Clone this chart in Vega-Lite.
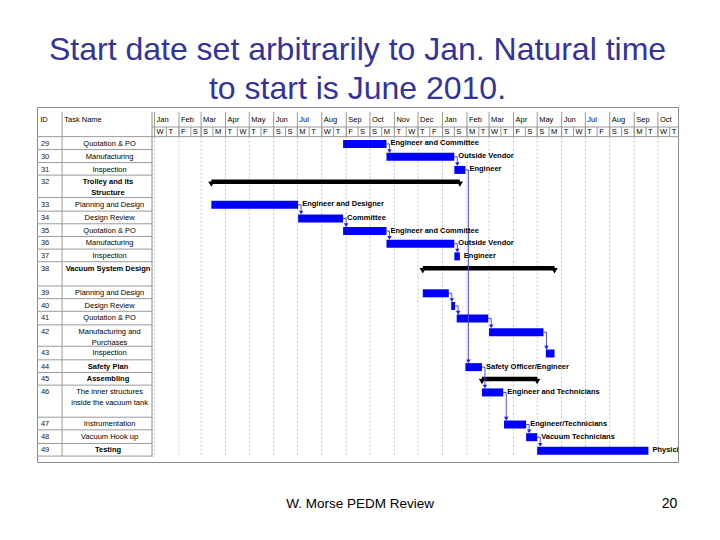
{
  "$schema": "https://vega.github.io/schema/vega-lite/v6.json",
  "width": 641,
  "height": 355,
  "autosize": {"type": "none"},
  "padding": {"left": 37, "top": 107, "right": 42, "bottom": 78},
  "background": "white",
  "config": {"view": {"stroke": "#8c8c8c", "strokeWidth": 1}, "font": "Liberation Sans"},
  "title": {
    "text": ["Start date set arbitrarily to Jan. Natural time", "to start is June 2010."],
    "font": "Liberation Sans",
    "fontSize": 32,
    "fontWeight": "normal",
    "color": "#333399",
    "lineHeight": 39,
    "anchor": "middle",
    "offset": 1
  },
  "datasets": {
    "tasks": [
      {"id": 29, "name": "Quotation & PO", "level": 2, "type": "task", "start": 239, "end": 294, "resource": "Engineer and Committee", "top": 1.89, "bottom": 2.88},
      {"id": 30, "name": "Manufacturing", "level": 2, "type": "task", "start": 294, "end": 380, "resource": "Outside Vendor", "top": 2.88, "bottom": 3.88},
      {"id": 31, "name": "Inspection", "level": 2, "type": "task", "start": 380, "end": 394, "resource": "Engineer", "top": 3.88, "bottom": 4.84},
      {"id": 32, "name": ["Trolley and its", "Structure"], "level": 1, "type": "summary", "start": 72, "end": 387, "resource": null, "top": 4.84, "bottom": 6.56},
      {"id": 33, "name": "Planning and Design", "level": 2, "type": "task", "start": 72, "end": 182, "resource": "Engineer and Designer", "top": 6.56, "bottom": 7.6},
      {"id": 34, "name": "Design Review", "level": 2, "type": "task", "start": 182, "end": 239, "resource": "Committee", "top": 7.6, "bottom": 8.57},
      {"id": 35, "name": "Quotation & PO", "level": 2, "type": "task", "start": 239, "end": 294, "resource": "Engineer and Committee", "top": 8.57, "bottom": 9.54},
      {"id": 36, "name": "Manufacturing", "level": 2, "type": "task", "start": 294, "end": 380, "resource": "Outside Vendor", "top": 9.54, "bottom": 10.51},
      {"id": 37, "name": "Inspection", "level": 2, "type": "task", "start": 380, "end": 387, "resource": "Engineer", "top": 10.51, "bottom": 11.48},
      {"id": 38, "name": "Vacuum System Design", "level": 1, "type": "summary", "start": 340, "end": 507, "resource": null, "top": 11.48, "bottom": 13.34},
      {"id": 39, "name": "Planning and Design", "level": 2, "type": "task", "start": 340, "end": 373, "resource": null, "top": 13.34, "bottom": 14.31},
      {"id": 40, "name": "Design Review", "level": 2, "type": "task", "start": 376, "end": 381, "resource": null, "top": 14.31, "bottom": 15.28},
      {"id": 41, "name": "Quotation & PO", "level": 2, "type": "task", "start": 383, "end": 423, "resource": null, "top": 15.28, "bottom": 16.32},
      {"id": 42, "name": ["Manufacturing and", "Purchases"], "level": 2, "type": "task", "start": 424, "end": 493, "resource": null, "top": 16.32, "bottom": 17.96},
      {"id": 43, "name": "Inspection", "level": 2, "type": "task", "start": 496, "end": 507, "resource": null, "top": 17.96, "bottom": 19.0},
      {"id": 44, "name": "Safety Plan", "level": 1, "type": "task", "start": 394, "end": 415, "resource": "Safety Officer/Engineer", "top": 19.0, "bottom": 19.97},
      {"id": 45, "name": "Assembling", "level": 1, "type": "summary", "start": 415, "end": 485, "resource": null, "top": 19.97, "bottom": 20.94},
      {"id": 46, "name": ["The inner structures", "inside the vacuum tank"], "level": 2, "type": "task", "start": 415, "end": 442, "resource": "Engineer and Technicians", "top": 20.94, "bottom": 23.4},
      {"id": 47, "name": "Instrumentation", "level": 2, "type": "task", "start": 443, "end": 471, "resource": "Engineer/Technicians", "top": 23.4, "bottom": 24.37},
      {"id": 48, "name": "Vacuum Hook up", "level": 2, "type": "task", "start": 471, "end": 485, "resource": "Vacuum Technicians", "top": 24.37, "bottom": 25.41},
      {"id": 49, "name": "Testing", "level": 1, "type": "task", "start": 485, "end": 626, "resource": "Physicists", "top": 25.41, "bottom": 26.38}
    ],
    "links": [
      {"from": 29, "to": 30}, {"from": 30, "to": 31}, {"from": 33, "to": 34}, {"from": 34, "to": 35},
      {"from": 35, "to": 36}, {"from": 36, "to": 37}, {"from": 39, "to": 40}, {"from": 40, "to": 41},
      {"from": 41, "to": 42}, {"from": 42, "to": 43}, {"from": 31, "to": 44}, {"from": 44, "to": 46},
      {"from": 46, "to": 47}, {"from": 47, "to": 48}, {"from": 48, "to": 49}
    ],
    "months": [
      {"start": 0, "label": "Jan"}, {"start": 31, "label": "Feb"}, {"start": 59, "label": "Mar"}, {"start": 90, "label": "Apr"},
      {"start": 120, "label": "May"}, {"start": 151, "label": "Jun"}, {"start": 181, "label": "Jul"}, {"start": 212, "label": "Aug"},
      {"start": 243, "label": "Sep"}, {"start": 273, "label": "Oct"}, {"start": 304, "label": "Nov"}, {"start": 334, "label": "Dec"},
      {"start": 365, "label": "Jan"}, {"start": 396, "label": "Feb"}, {"start": 424, "label": "Mar"}, {"start": 455, "label": "Apr"},
      {"start": 485, "label": "May"}, {"start": 516, "label": "Jun"}, {"start": 546, "label": "Jul"}, {"start": 577, "label": "Aug"},
      {"start": 608, "label": "Sep"}, {"start": 638, "label": "Oct"}
    ],
    "minor": [
      {"day": 0, "label": "W"}, {"day": 15, "label": "T"}, {"day": 31, "label": "F"}, {"day": 46, "label": "S"},
      {"day": 59, "label": "S"}, {"day": 74, "label": "M"}, {"day": 90, "label": "T"}, {"day": 105, "label": "W"},
      {"day": 120, "label": "T"}, {"day": 135, "label": "F"}, {"day": 151, "label": "S"}, {"day": 166, "label": "S"},
      {"day": 181, "label": "M"}, {"day": 196, "label": "T"}, {"day": 212, "label": "W"}, {"day": 227, "label": "T"},
      {"day": 243, "label": "F"}, {"day": 258, "label": "S"}, {"day": 273, "label": "S"}, {"day": 288, "label": "M"},
      {"day": 304, "label": "T"}, {"day": 319, "label": "W"}, {"day": 334, "label": "T"}, {"day": 349, "label": "F"},
      {"day": 365, "label": "S"}, {"day": 380, "label": "S"}, {"day": 396, "label": "M"}, {"day": 411, "label": "T"},
      {"day": 424, "label": "W"}, {"day": 439, "label": "T"}, {"day": 455, "label": "F"}, {"day": 470, "label": "S"},
      {"day": 485, "label": "S"}, {"day": 500, "label": "M"}, {"day": 516, "label": "T"}, {"day": 531, "label": "W"},
      {"day": 546, "label": "T"}, {"day": 561, "label": "F"}, {"day": 577, "label": "S"}, {"day": 592, "label": "S"},
      {"day": 608, "label": "M"}, {"day": 623, "label": "T"}, {"day": 638, "label": "W"}, {"day": 653, "label": "T"}
    ]
  },
  "layer": [
    {
      "data": {"name": "months"},
      "mark": {"type": "rule", "color": "#c4c4c4", "strokeDash": [2, 2], "strokeWidth": 1},
      "encoding": {
        "x": {"field": "start", "type": "quantitative", "scale": {"type": "linear", "domain": [-149, 663.5], "nice": false, "zero": false}, "axis": null},
        "y": {"datum": 1.89, "type": "quantitative", "scale": {"type": "linear", "domain": [0, 26.45], "reverse": true, "nice": false, "zero": false}, "axis": null},
        "y2": {"datum": 26.45}
      }
    },
    {
      "data": {"name": "months"},
      "mark": {"type": "rule", "color": "#9a9a9a", "strokeWidth": 1},
      "encoding": {
        "x": {"field": "start", "type": "quantitative", "scale": {"type": "linear", "domain": [-149, 663.5], "nice": false, "zero": false}, "axis": null},
        "y": {"datum": 0, "type": "quantitative", "scale": {"type": "linear", "domain": [0, 26.45], "reverse": true, "nice": false, "zero": false}, "axis": null},
        "y2": {"datum": 1.89}
      }
    },
    {
      "data": {"name": "minor"},
      "mark": {"type": "rule", "color": "#9a9a9a", "strokeWidth": 1},
      "encoding": {
        "x": {"field": "day", "type": "quantitative", "scale": {"type": "linear", "domain": [-149, 663.5], "nice": false, "zero": false}, "axis": null},
        "y": {"datum": 1.15, "type": "quantitative", "scale": {"type": "linear", "domain": [0, 26.45], "reverse": true, "nice": false, "zero": false}, "axis": null},
        "y2": {"datum": 1.89}
      }
    },
    {
      "data": {"values": [{}]},
      "mark": {"type": "rule", "color": "#9a9a9a", "strokeWidth": 1},
      "encoding": {
        "x": {"datum": -3.2, "type": "quantitative", "scale": {"type": "linear", "domain": [-149, 663.5], "nice": false, "zero": false}, "axis": null},
        "x2": {"datum": 663.5},
        "y": {"datum": 1.15, "type": "quantitative", "scale": {"type": "linear", "domain": [0, 26.45], "reverse": true, "nice": false, "zero": false}, "axis": null}
      }
    },
    {
      "data": {"values": [{}]},
      "mark": {"type": "rule", "color": "#9a9a9a", "strokeWidth": 1},
      "encoding": {
        "x": {"datum": -149, "type": "quantitative", "scale": {"type": "linear", "domain": [-149, 663.5], "nice": false, "zero": false}, "axis": null},
        "x2": {"datum": 663.5},
        "y": {"datum": 1.89, "type": "quantitative", "scale": {"type": "linear", "domain": [0, 26.45], "reverse": true, "nice": false, "zero": false}, "axis": null}
      }
    },
    {
      "data": {"values": [{}]},
      "mark": {"type": "rule", "color": "#9a9a9a", "strokeWidth": 1},
      "encoding": {
        "x": {"datum": -117.2, "type": "quantitative", "scale": {"type": "linear", "domain": [-149, 663.5], "nice": false, "zero": false}, "axis": null},
        "y": {"datum": 0, "type": "quantitative", "scale": {"type": "linear", "domain": [0, 26.45], "reverse": true, "nice": false, "zero": false}, "axis": null},
        "y2": {"datum": 26.38}
      }
    },
    {
      "data": {"values": [{}]},
      "mark": {"type": "rule", "color": "#8c8c8c", "strokeWidth": 1},
      "encoding": {
        "x": {"datum": -3.2, "type": "quantitative", "scale": {"type": "linear", "domain": [-149, 663.5], "nice": false, "zero": false}, "axis": null},
        "y": {"datum": 0, "type": "quantitative", "scale": {"type": "linear", "domain": [0, 26.45], "reverse": true, "nice": false, "zero": false}, "axis": null},
        "y2": {"datum": 26.45}
      }
    },
    {
      "data": {"name": "tasks"},
      "mark": {"type": "rule", "color": "#9a9a9a", "strokeWidth": 1},
      "encoding": {
        "x": {"datum": -149, "type": "quantitative", "scale": {"type": "linear", "domain": [-149, 663.5], "nice": false, "zero": false}, "axis": null},
        "x2": {"datum": -3.2},
        "y": {"field": "bottom", "type": "quantitative", "scale": {"type": "linear", "domain": [0, 26.45], "reverse": true, "nice": false, "zero": false}, "axis": null}
      }
    },
    {
      "data": {"name": "months"},
      "mark": {"type": "text", "align": "left", "baseline": "middle", "dx": 2, "fontSize": 7.5, "color": "#000000"},
      "encoding": {
        "x": {"field": "start", "type": "quantitative", "scale": {"type": "linear", "domain": [-149, 663.5], "nice": false, "zero": false}, "axis": null},
        "y": {"datum": 0.62, "type": "quantitative", "scale": {"type": "linear", "domain": [0, 26.45], "reverse": true, "nice": false, "zero": false}, "axis": null},
        "text": {"field": "label"}
      }
    },
    {
      "data": {"name": "minor"},
      "mark": {"type": "text", "align": "left", "baseline": "middle", "dx": 2, "fontSize": 7.5, "color": "#000000"},
      "encoding": {
        "x": {"field": "day", "type": "quantitative", "scale": {"type": "linear", "domain": [-149, 663.5], "nice": false, "zero": false}, "axis": null},
        "y": {"datum": 1.53, "type": "quantitative", "scale": {"type": "linear", "domain": [0, 26.45], "reverse": true, "nice": false, "zero": false}, "axis": null},
        "text": {"field": "label"}
      }
    },
    {
      "data": {"values": [{}]},
      "mark": {"type": "text", "text": "ID", "align": "left", "baseline": "middle", "fontSize": 7.5, "color": "#000000"},
      "encoding": {
        "x": {"datum": -145, "type": "quantitative", "scale": {"type": "linear", "domain": [-149, 663.5], "nice": false, "zero": false}, "axis": null},
        "y": {"datum": 0.65, "type": "quantitative", "scale": {"type": "linear", "domain": [0, 26.45], "reverse": true, "nice": false, "zero": false}, "axis": null}
      }
    },
    {
      "data": {"values": [{}]},
      "mark": {"type": "text", "text": "Task Name", "align": "left", "baseline": "middle", "fontSize": 7.5, "color": "#000000"},
      "encoding": {
        "x": {"datum": -114.5, "type": "quantitative", "scale": {"type": "linear", "domain": [-149, 663.5], "nice": false, "zero": false}, "axis": null},
        "y": {"datum": 0.65, "type": "quantitative", "scale": {"type": "linear", "domain": [0, 26.45], "reverse": true, "nice": false, "zero": false}, "axis": null}
      }
    },
    {
      "data": {"name": "tasks"},
      "mark": {"type": "text", "align": "left", "baseline": "middle", "yOffset": 7, "fontSize": 7.5, "color": "#222222"},
      "encoding": {
        "x": {"datum": -144, "type": "quantitative", "scale": {"type": "linear", "domain": [-149, 663.5], "nice": false, "zero": false}, "axis": null},
        "y": {"field": "top", "type": "quantitative", "scale": {"type": "linear", "domain": [0, 26.45], "reverse": true, "nice": false, "zero": false}, "axis": null},
        "text": {"field": "id"}
      }
    },
    {
      "data": {"name": "tasks"},
      "transform": [{"filter": "datum.level == 2"}],
      "mark": {"type": "text", "align": "center", "baseline": "top", "yOffset": 3, "fontSize": 7.5, "lineHeight": 11, "color": "#000000"},
      "encoding": {
        "x": {"datum": -57, "type": "quantitative", "scale": {"type": "linear", "domain": [-149, 663.5], "nice": false, "zero": false}, "axis": null},
        "y": {"field": "top", "type": "quantitative", "scale": {"type": "linear", "domain": [0, 26.45], "reverse": true, "nice": false, "zero": false}, "axis": null},
        "text": {"field": "name"}
      }
    },
    {
      "data": {"name": "tasks"},
      "transform": [{"filter": "datum.level == 1"}],
      "mark": {"type": "text", "align": "center", "baseline": "top", "yOffset": 3, "fontSize": 7.5, "fontWeight": "bold", "lineHeight": 10.5, "color": "#000000"},
      "encoding": {
        "x": {"datum": -59, "type": "quantitative", "scale": {"type": "linear", "domain": [-149, 663.5], "nice": false, "zero": false}, "axis": null},
        "y": {"field": "top", "type": "quantitative", "scale": {"type": "linear", "domain": [0, 26.45], "reverse": true, "nice": false, "zero": false}, "axis": null},
        "text": {"field": "name"}
      }
    },
    {
      "data": {"name": "tasks"},
      "transform": [{"filter": "datum.type == 'task'"}],
      "mark": {"type": "bar", "height": 8, "yOffset": 7.3, "color": "#0000ff"},
      "encoding": {
        "x": {"field": "start", "type": "quantitative", "scale": {"type": "linear", "domain": [-149, 663.5], "nice": false, "zero": false}, "axis": null},
        "x2": {"field": "end"},
        "y": {"field": "top", "type": "quantitative", "scale": {"type": "linear", "domain": [0, 26.45], "reverse": true, "nice": false, "zero": false}, "axis": null}
      }
    },
    {
      "data": {"name": "tasks"},
      "transform": [{"filter": "datum.type == 'summary'"}],
      "mark": {"type": "bar", "height": 4.5, "yOffset": 6.5, "color": "#000000"},
      "encoding": {
        "x": {"field": "start", "type": "quantitative", "scale": {"type": "linear", "domain": [-149, 663.5], "nice": false, "zero": false}, "axis": null},
        "x2": {"field": "end"},
        "y": {"field": "top", "type": "quantitative", "scale": {"type": "linear", "domain": [0, 26.45], "reverse": true, "nice": false, "zero": false}, "axis": null}
      }
    },
    {
      "data": {"name": "tasks"},
      "transform": [{"filter": "datum.type == 'summary'"}, {"fold": ["start", "end"], "as": ["edge", "pos"]}],
      "mark": {"type": "point", "shape": "triangle-down", "filled": true, "size": 40, "opacity": 1, "yOffset": 9, "color": "#000000"},
      "encoding": {
        "x": {"field": "pos", "type": "quantitative", "scale": {"type": "linear", "domain": [-149, 663.5], "nice": false, "zero": false}, "axis": null},
        "y": {"field": "top", "type": "quantitative", "scale": {"type": "linear", "domain": [0, 26.45], "reverse": true, "nice": false, "zero": false}, "axis": null}
      }
    },
    {
      "data": {"name": "links"},
      "transform": [
        {"lookup": "from", "from": {"data": {"name": "tasks"}, "key": "id", "fields": ["end", "top"]}, "as": ["fromEnd", "fromTop"]},
        {"lookup": "to", "from": {"data": {"name": "tasks"}, "key": "id", "fields": ["top"]}, "as": ["toTop"]}
      ],
      "mark": {"type": "rule", "color": "#3a3af0", "strokeWidth": 1, "yOffset": 7.3, "x2Offset": 3},
      "encoding": {
        "x": {"field": "fromEnd", "type": "quantitative", "scale": {"type": "linear", "domain": [-149, 663.5], "nice": false, "zero": false}, "axis": null},
        "x2": {"field": "fromEnd"},
        "y": {"field": "fromTop", "type": "quantitative", "scale": {"type": "linear", "domain": [0, 26.45], "reverse": true, "nice": false, "zero": false}, "axis": null}
      }
    },
    {
      "data": {"name": "links"},
      "transform": [
        {"lookup": "from", "from": {"data": {"name": "tasks"}, "key": "id", "fields": ["end", "top"]}, "as": ["fromEnd", "fromTop"]},
        {"lookup": "to", "from": {"data": {"name": "tasks"}, "key": "id", "fields": ["top"]}, "as": ["toTop"]}
      ],
      "mark": {"type": "rule", "color": "#5050e8", "strokeWidth": 1, "xOffset": 3, "yOffset": 7.3, "y2Offset": 1.5},
      "encoding": {
        "x": {"field": "fromEnd", "type": "quantitative", "scale": {"type": "linear", "domain": [-149, 663.5], "nice": false, "zero": false}, "axis": null},
        "y": {"field": "fromTop", "type": "quantitative", "scale": {"type": "linear", "domain": [0, 26.45], "reverse": true, "nice": false, "zero": false}, "axis": null},
        "y2": {"field": "toTop"}
      }
    },
    {
      "data": {"name": "links"},
      "transform": [
        {"lookup": "from", "from": {"data": {"name": "tasks"}, "key": "id", "fields": ["end", "top"]}, "as": ["fromEnd", "fromTop"]},
        {"lookup": "to", "from": {"data": {"name": "tasks"}, "key": "id", "fields": ["top"]}, "as": ["toTop"]}
      ],
      "mark": {"type": "point", "shape": "triangle-down", "filled": true, "size": 20, "opacity": 1, "xOffset": 3, "yOffset": 1.5, "color": "#2020ff"},
      "encoding": {
        "x": {"field": "fromEnd", "type": "quantitative", "scale": {"type": "linear", "domain": [-149, 663.5], "nice": false, "zero": false}, "axis": null},
        "y": {"field": "toTop", "type": "quantitative", "scale": {"type": "linear", "domain": [0, 26.45], "reverse": true, "nice": false, "zero": false}, "axis": null}
      }
    },
    {
      "data": {"name": "tasks"},
      "transform": [{"filter": "datum.resource != null"}],
      "mark": {"type": "text", "align": "left", "baseline": "middle", "dx": 4, "yOffset": 6.8, "fontSize": 7.5, "fontWeight": "bold", "color": "#000000", "clip": true},
      "encoding": {
        "x": {"field": "end", "type": "quantitative", "scale": {"type": "linear", "domain": [-149, 663.5], "nice": false, "zero": false}, "axis": null},
        "y": {"field": "top", "type": "quantitative", "scale": {"type": "linear", "domain": [0, 26.45], "reverse": true, "nice": false, "zero": false}, "axis": null},
        "text": {"field": "resource"}
      }
    },
    {
      "data": {"values": [{}]},
      "mark": {"type": "text", "text": "W. Morse PEDM Review", "align": "center", "baseline": "alphabetic", "fontSize": 13.5, "color": "#000000"},
      "encoding": {
        "x": {"datum": 260.5, "type": "quantitative", "scale": {"type": "linear", "domain": [-149, 663.5], "nice": false, "zero": false}, "axis": null},
        "y": {"datum": 30.37, "type": "quantitative", "scale": {"type": "linear", "domain": [0, 26.45], "reverse": true, "nice": false, "zero": false}, "axis": null}
      }
    },
    {
      "data": {"values": [{}]},
      "mark": {"type": "text", "text": "20", "align": "right", "baseline": "alphabetic", "fontSize": 14, "color": "#000000"},
      "encoding": {
        "x": {"datum": 662.5, "type": "quantitative", "scale": {"type": "linear", "domain": [-149, 663.5], "nice": false, "zero": false}, "axis": null},
        "y": {"datum": 30.37, "type": "quantitative", "scale": {"type": "linear", "domain": [0, 26.45], "reverse": true, "nice": false, "zero": false}, "axis": null}
      }
    }
  ]
}
